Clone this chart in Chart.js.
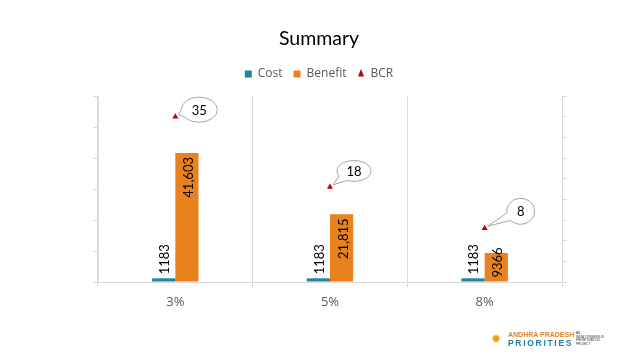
<!DOCTYPE html>
<html>
<head>
<meta charset="utf-8">
<script src="https://cdn.jsdelivr.net/npm/chart.js@4.4.0/dist/chart.umd.min.js"></script>
<style>
  html, body { margin: 0; padding: 0; background: #fff; }
  #wrap { position: relative; width: 638px; height: 359px; }
  #myChart { position: absolute; left: 0; top: 0; }
  #logo { position: absolute; left: 491px; top: 331px; font-family: "Liberation Sans", sans-serif; }
  #logo .sun { position: absolute; left: 0; top: 2px; font-family: "DejaVu Sans"; font-size: 12px; line-height: 12px; color: #e8a21e; }
  #logo .ap { position: absolute; left: 17px; top: 0; font-size: 7px; font-weight: bold; color: #e8821e; white-space: nowrap; line-height: 8px; }
  #logo .pr { position: absolute; left: 17px; top: 8px; font-size: 8.5px; font-weight: bold; color: #1f7ea1; letter-spacing: 1.7px; white-space: nowrap; line-height: 9px; }
  #logo .sub { position: absolute; left: 85px; top: 1px; font-size: 3px; line-height: 3.7px; color: #333; white-space: nowrap; }
</style>
</head>
<body>
<div id="wrap">
  <canvas id="myChart" width="638" height="359"></canvas>
  <div id="logo">
    <div class="sun">✹</div>
    <div class="ap">ANDHRA PRADESH</div>
    <div class="pr">PRIORITIES</div>
    <div class="sub">AN<br>INDIA CONSENSUS<br>PRIORITIZATION<br>PROJECT</div>
  </div>
</div>
<script>
const categories = ['3%', '5%', '8%'];
const costValues = [1183, 1183, 1183];
const benefitValues = [41603, 21815, 9366];
const bcrValues = [35, 18, 8];
const costLabels = ['1183', '1183', '1183'];
const benefitLabels = ['41,603', '21,815', '9366'];

const legendStyles = ['rect', 'rect', 'triangle'];

// bubble shape around each BCR value (offset from point, radii)
const calloutShapes = [
    { dx: 24, dy: -7, rx: 18, ry: 12.5 },
    { dx: 24, dy: -16, rx: 17, ry: 10.5 },
    { dx: 36, dy: -17, rx: 14, ry: 13 }
];

const barLabelPlugin = {
    id: 'barLabels',
    afterDatasetsDraw(chart) {
        const ctx = chart.ctx;
        ctx.save();
        ctx.font = '13px Lato';
        ctx.fillStyle = '#000';
        ctx.textBaseline = 'middle';
        chart.getDatasetMeta(0).data.forEach(function(bar, i) {
            ctx.save();
            ctx.translate(bar.x + 1, bar.y - 4);
            ctx.rotate(-Math.PI / 2);
            ctx.textAlign = 'left';
            ctx.fillText(costLabels[i], 0, 0);
            ctx.restore();
        });
        chart.getDatasetMeta(1).data.forEach(function(bar, i) {
            const w = ctx.measureText(benefitLabels[i]).width;
            ctx.save();
            if (bar.base - bar.y < w + 8) {
                // too short: start the text just above the base
                ctx.translate(bar.x + 2, bar.base - 4);
                ctx.rotate(-Math.PI / 2);
                ctx.textAlign = 'left';
            } else {
                ctx.translate(bar.x + 2, bar.y + 4);
                ctx.rotate(-Math.PI / 2);
                ctx.textAlign = 'right';
            }
            ctx.fillText(benefitLabels[i], 0, 0);
            ctx.restore();
        });
        ctx.restore();
    }
};

const calloutPlugin = {
    id: 'callouts',
    afterDatasetsDraw(chart) {
        const ctx = chart.ctx;
        chart.getDatasetMeta(2).data.forEach(function(pt, i) {
            const c = calloutShapes[i];
            const cx = pt.x + c.dx, cy = pt.y + c.dy;
            const tipX = pt.x + 3, tipY = pt.y - 2;
            const t = Math.atan2((tipY - cy) / c.ry, (tipX - cx) / c.rx);
            const spread = 0.32;
            ctx.save();
            ctx.beginPath();
            ctx.ellipse(cx, cy, c.rx, c.ry, 0, t + spread, t - spread + Math.PI * 2);
            ctx.lineTo(tipX, tipY);
            ctx.closePath();
            ctx.fillStyle = '#fff';
            ctx.fill();
            ctx.strokeStyle = '#a6a6a6';
            ctx.lineWidth = 1;
            ctx.stroke();
            ctx.font = '13px Lato';
            ctx.fillStyle = '#000';
            ctx.textAlign = 'center';
            ctx.textBaseline = 'middle';
            ctx.fillText(String(bcrValues[i]), cx, cy + 1);
            ctx.restore();
        });
    }
};

const data = {
    labels: categories,
    datasets: [{
        label: 'Cost',
        data: costValues,
        backgroundColor: '#2185a6',
        xAxisID: 'x',
        yAxisID: 'y'
    }, {
        label: 'Benefit',
        data: benefitValues,
        backgroundColor: '#e8821e',
        xAxisID: 'x',
        yAxisID: 'y'
    }, {
        label: 'BCR',
        type: 'line',
        data: bcrValues,
        showLine: false,
        pointStyle: 'triangle',
        pointRadius: 3.5,
        backgroundColor: '#c00000',
        borderColor: '#c00000',
        borderWidth: 0,
        xAxisID: 'x',
        yAxisID: 'y2'
    }]
};

const config = {
    type: 'bar',
    data: data,
    options: {
        responsive: false,
        animation: false,
        devicePixelRatio: 1,
        categoryPercentage: 0.3,
        barPercentage: 1,
        layout: { padding: 0 },
        plugins: {
            tooltip: { enabled: false },
            title: {
                display: true,
                text: 'Summary',
                color: '#000',
                font: { family: 'Lato', size: 19.5, weight: 'normal' },
                padding: { top: 26.7, bottom: 6.9 }
            },
            legend: {
                position: 'top',
                labels: {
                    usePointStyle: true,
                    boxHeight: 7,
                    pointStyleWidth: 7,
                    padding: 11,
                    color: '#595959',
                    font: { family: 'Open Sans', size: 12 },
                    generateLabels: function(chart) {
                        const items = Chart.defaults.plugins.legend.labels.generateLabels(chart);
                        items.forEach(function(item) {
                            item.pointStyle = legendStyles[item.datasetIndex];
                            item.lineWidth = 0;
                        });
                        return items;
                    }
                }
            }
        },
        scales: {
            x: {
                position: 'bottom',
                grid: { color: '#d9d9d9', tickLength: 5, offset: true },
                border: { color: '#d9d9d9' },
                ticks: { color: '#595959', font: { family: 'Open Sans', size: 13 }, padding: 7 },
                afterFit: function(s) { s.height = 77; }
            },
            xTop: {
                type: 'category',
                position: 'top',
                grid: { display: false },
                border: { display: false },
                ticks: { display: false },
                afterFit: function(s) { s.height = 6; }
            },
            y: {
                position: 'left',
                min: 0,
                max: 60000,
                ticks: { stepSize: 10000, display: false },
                grid: { drawOnChartArea: false, color: '#d9d9d9', tickLength: 5 },
                border: { color: '#d9d9d9' },
                afterFit: function(s) { s.width = 98; }
            },
            y2: {
                position: 'right',
                min: -5,
                max: 40,
                ticks: { stepSize: 5, display: false },
                grid: { drawOnChartArea: false, color: '#d9d9d9', tickLength: 5 },
                border: { color: '#d9d9d9' },
                afterFit: function(s) { s.width = 76; }
            }
        }
    },
    plugins: [barLabelPlugin, calloutPlugin]
};

const myChart = new Chart(
    document.getElementById('myChart'),
    config
);
</script>
</body>
</html>
